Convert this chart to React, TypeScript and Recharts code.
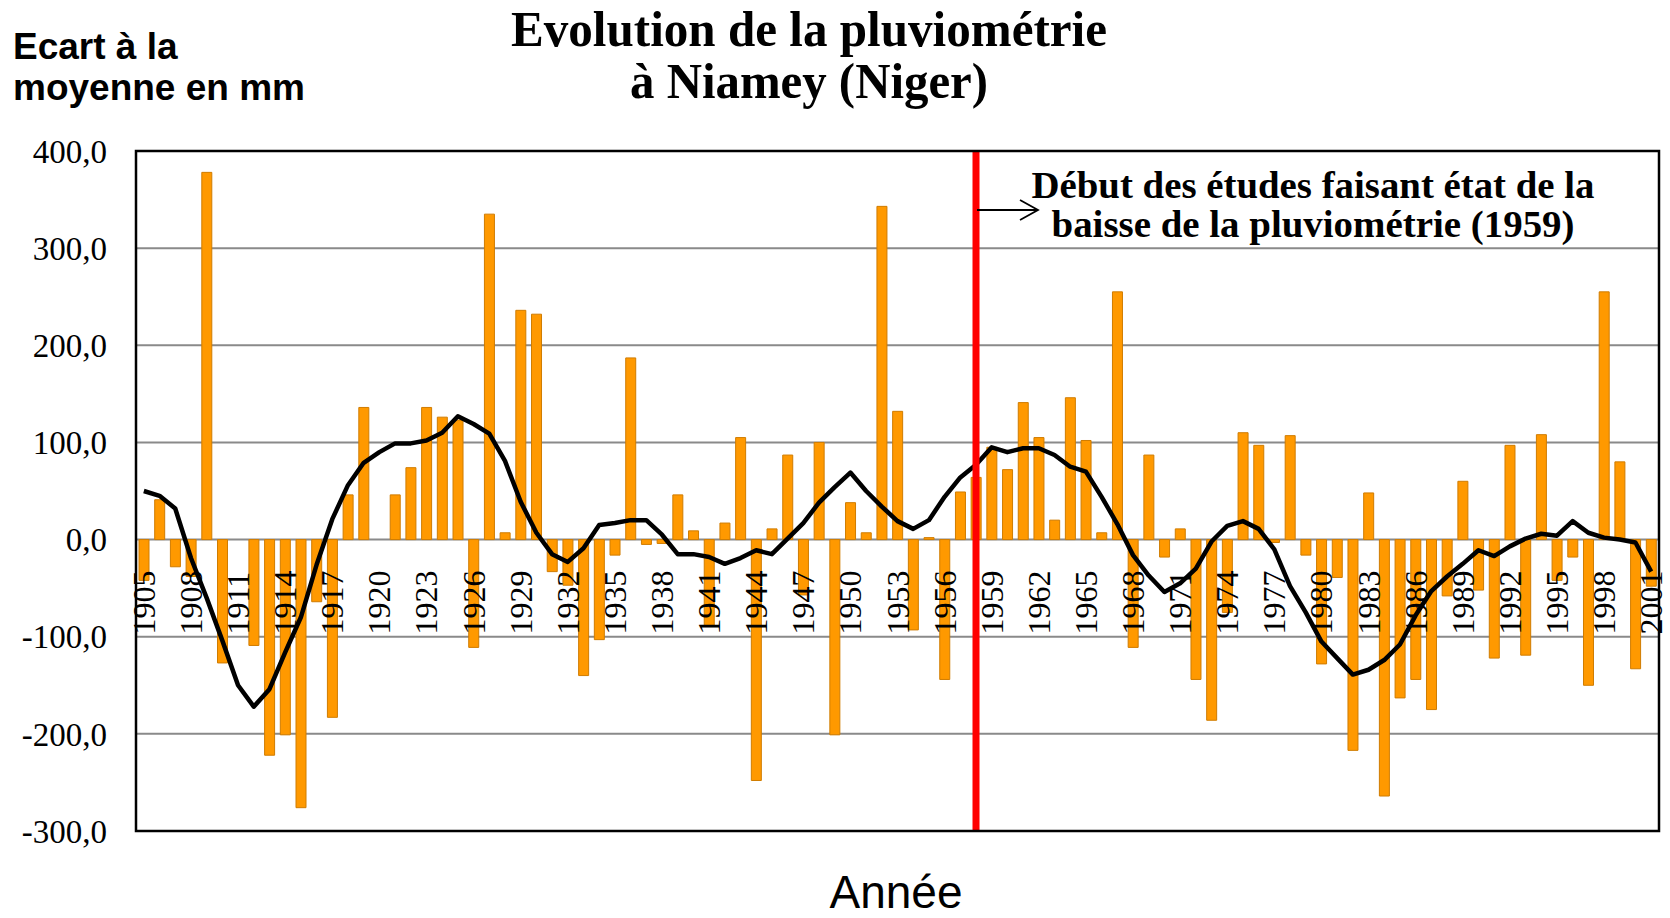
import React from "react";
import {
  ComposedChart,
  Bar,
  Line,
  XAxis,
  YAxis,
  CartesianGrid,
  ReferenceLine,
} from "recharts";

// Ecart à la moyenne (mm), Niamey 1905-2001
const FIRST_YEAR = 1905;

const ecart = [
  -42, 41, -28, -38, 378, -127, 0, -109, -222, -201,
  -276, -64, -183, 46, 136, 0, 46, 74, 136, 126,
  123, -111, 335, 7, 236, 232, -33, -47, -140, -103,
  -16, 187, -5, -4, 46, 9, -89, 17, 105, -248,
  11, 87, -57, 100, -201, 38, 7, 343, 132, -93,
  2, -144, 49, 64, 95, 72, 141, 105, 20, 146,
  102, 7, 255, -111, 87, -18, 11, -144, -186, -75,
  110, 97, -3, 107, -16, -128, -39, -217, 48, -264,
  -163, -144, -175, -58, 60, -52, -122, 97, -119, 108,
  -42, -18, -150, 255, 80, -133, -48,
];

// courbe lissée
const lissage = [
  50, 45, 32, -19, -60, -104, -150, -172, -154, -116,
  -80, -26, 21, 56, 79, 90, 99, 99, 102, 110,
  127, 119, 109, 81, 39, 7, -15, -23, -9, 15,
  17, 20, 20, 5, -15, -15, -18, -25, -19, -11,
  -15, 1, 17, 38, 54, 69, 50, 34, 19, 11,
  20, 44, 64, 77, 95, 90, 94, 94, 87, 75,
  70, 44, 16, -16, -37, -54, -45, -30, -2, 14,
  19, 11, -10, -48, -75, -105, -122, -139, -134, -124,
  -108, -78, -53, -38, -25, -11, -17, -7, 1, 6,
  4, 19, 7, 2, 0, -3, -33,
];

const yearTicks = [
  1905, 1908, 1911, 1914, 1917, 1920, 1923, 1926, 1929, 1932, 1935,
  1938, 1941, 1944, 1947, 1950, 1953, 1956, 1959, 1962, 1965, 1968,
  1971, 1974, 1977, 1980, 1983, 1986, 1989, 1992, 1995, 1998, 2001,
];
const valueTicks = [-300, -200, -100, 0, 100, 200, 300, 400];
const breakYear = 1958;

const data = ecart.map((v, i) => ({
  year: FIRST_YEAR + i,
  ecart: v,
  lissage: lissage[i],
}));

const W = 1670;
const H = 918;
const PLOT_LEFT = 136;
const PLOT_TOP = 151;
const PLOT_RIGHT = 1659;
const PLOT_BOTTOM = 831;
const Y_AXIS_W = 100;
const X_AXIS_H = 30;
const PLOT_H = PLOT_BOTTOM - PLOT_TOP;
const ZERO_Y = PLOT_TOP + (PLOT_H * 400) / 700;

const SERIF = '"Liberation Serif", "Times New Roman", serif';
const SANS = '"Liberation Sans", Arial, sans-serif';

function YearTick({ x, payload }: any) {
  return (
    <text
      transform={`translate(${x},${ZERO_Y + 95}) rotate(-90)`}
      textAnchor="start"
      dominantBaseline="central"
      fontFamily={SERIF}
      fontSize={32}
      fill="#000"
    >
      {payload.value}
    </text>
  );
}

const fmt = (v: number) => v.toFixed(1).replace(".", ",");

export default function App() {
  return (
    <div
      style={{
        position: "absolute",
        left: 0,
        top: 0,
        width: W,
        height: H,
        background: "#fff",
      }}
    >
      <ComposedChart
        width={W}
        height={H}
        data={data}
        barSize={10}
        margin={{
          top: PLOT_TOP,
          right: W - PLOT_RIGHT,
          bottom: H - PLOT_BOTTOM - X_AXIS_H,
          left: PLOT_LEFT - Y_AXIS_W,
        }}
      >
        <CartesianGrid vertical={false} stroke="#8a8a8a" strokeWidth={2} />
        <XAxis
          dataKey="year"
          ticks={yearTicks}
          interval={0}
          height={X_AXIS_H}
          axisLine={false}
          tickLine={false}
          tick={(p: any) => <YearTick {...p} />}
        />
        <YAxis
          width={Y_AXIS_W}
          domain={[-300, 400]}
          ticks={valueTicks}
          interval={0}
          axisLine={false}
          tickLine={false}
          tickSize={0}
          tickMargin={29}
          tickFormatter={fmt}
          tick={{ fontFamily: SERIF, fontSize: 33, fill: "#000" }}
        />
        <Bar
          dataKey="ecart"
          fill="#FF9900"
          stroke="#D07C00"
          strokeWidth={1}
          isAnimationActive={false}
        />
        <Line
          dataKey="lissage"
          type="linear"
          stroke="#000"
          strokeWidth={4.5}
          strokeLinejoin="round"
          dot={false}
          activeDot={false}
          isAnimationActive={false}
        />
        <ReferenceLine x={breakYear} stroke="#FF0000" strokeWidth={7} />
      </ComposedChart>

      <svg
        width={W}
        height={H}
        style={{ position: "absolute", left: 0, top: 0, pointerEvents: "none" }}
      >
        <rect
          x={PLOT_LEFT}
          y={PLOT_TOP}
          width={PLOT_RIGHT - PLOT_LEFT}
          height={PLOT_BOTTOM - PLOT_TOP}
          fill="none"
          stroke="#000"
          strokeWidth={2.5}
        />

        <g fontFamily={SANS} fontWeight="bold" fontSize={37} fill="#000">
          <text x={13} y={59}>Ecart à la</text>
          <text x={13} y={100}>moyenne en mm</text>
        </g>

        <g fontFamily={SERIF} fontWeight="bold" fontSize={50} fill="#000" textAnchor="middle">
          <text x={809} y={46} textLength={596} lengthAdjust="spacingAndGlyphs">
            Evolution de la pluviométrie
          </text>
          <text x={809} y={98} textLength={358} lengthAdjust="spacingAndGlyphs">
            à Niamey (Niger)
          </text>
        </g>

        <g fontFamily={SERIF} fontWeight="bold" fontSize={38} fill="#000" textAnchor="middle">
          <text x={1313} y={198} textLength={563} lengthAdjust="spacingAndGlyphs">
            Début des études faisant état de la
          </text>
          <text x={1313} y={237} textLength={523} lengthAdjust="spacingAndGlyphs">
            baisse de la pluviométrie (1959)
          </text>
        </g>

        <g stroke="#000" strokeWidth={1.8} fill="none">
          <line x1={977} y1={210} x2={1038} y2={210} />
          <polyline points="1020,200 1038,210 1020,220" />
        </g>

        <text
          x={896}
          y={908}
          textAnchor="middle"
          fontFamily={SANS}
          fontSize={46}
          fill="#000"
        >
          Année
        </text>
      </svg>
    </div>
  );
}
